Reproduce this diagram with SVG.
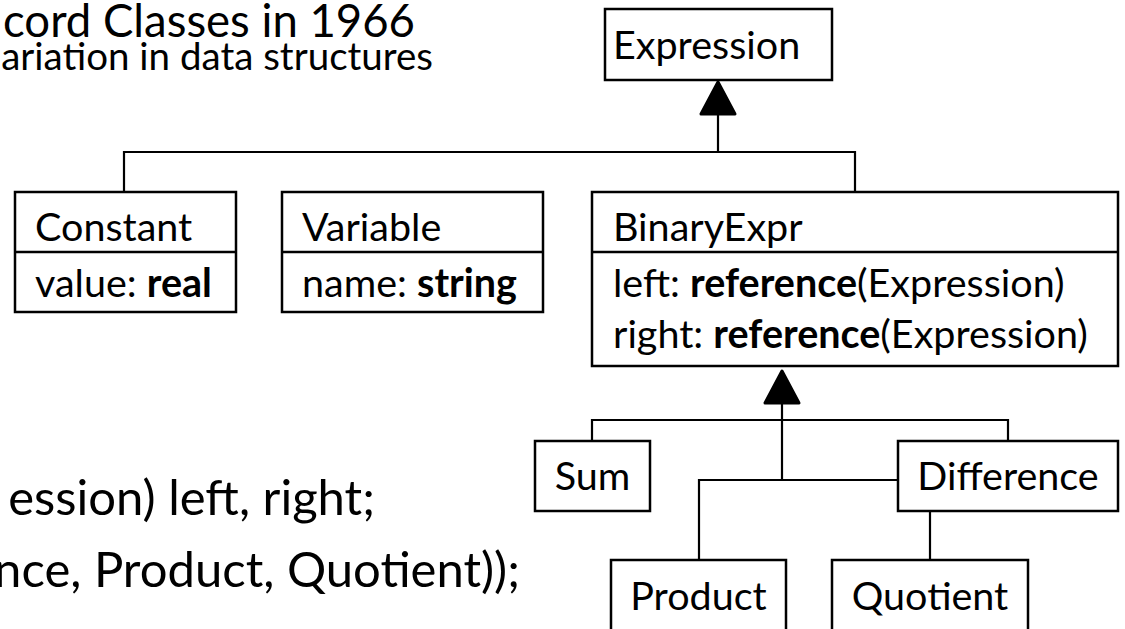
<svg xmlns="http://www.w3.org/2000/svg" width="1125" height="629" viewBox="0 0 1125 629">
<style>
.box{fill:#fff;stroke:#000;stroke-width:2.5}
.div{stroke:#000;stroke-width:2.5}
.con{fill:none;stroke:#000;stroke-width:2.2}
.t{font-family:Lato,"Open Sans","Liberation Sans",sans-serif;font-size:39.5px;fill:#000}
.c{text-anchor:middle}
.b{font-weight:bold}
.big{font-family:Lato,"Open Sans","Liberation Sans",sans-serif;fill:#000;text-anchor:end}
</style>
<defs>
<marker id="tri" markerUnits="userSpaceOnUse" viewBox="-3 -3 40 43" markerWidth="40" markerHeight="43" refX="0" refY="18.5" orient="auto">
<path d="M0,1.5 L32,18.5 L0,35.5 Z" fill="#000" stroke="#000" stroke-width="3" stroke-linejoin="round"/>
</marker>
</defs>
<rect width="1125" height="629" fill="#fff"/>
<g id="title">
<text class="big" x="415" y="37" font-size="45.5">cord Classes in 1966</text>
<text class="big" x="433" y="70" font-size="38.5">ariation in data structures</text>
</g>
<g id="code">
<text class="big" x="375" y="515" font-size="49">ession) left, right;</text>
<text class="big" x="520" y="587" font-size="49">nce, Product, Quotient));</text>
</g>
<g id="connectors">
<path class="con" d="M124,192 V152 H855 V192"/>
<path class="con" d="M718,152 V114" marker-end="url(#tri)"/>
<path class="con" d="M592,441 V420 H1008 V441"/>
<path class="con" d="M699,560 V480 H898"/>
<path class="con" d="M782,480 V403" marker-end="url(#tri)"/>
<path class="con" d="M930,511 V560"/>
</g>
<g id="Expression">
<rect class="box" x="605" y="9" width="227" height="71"/>
<text class="t" x="613" y="59">Expression</text>
</g>
<g id="Constant">
<rect class="box" x="15" y="192" width="221" height="120"/>
<line class="div" x1="15" y1="252" x2="236" y2="252"/>
<text class="t" x="35" y="241">Constant</text>
<text class="t" x="35" y="297">value: <tspan class="b">real</tspan></text>
</g>
<g id="Variable">
<rect class="box" x="282" y="192" width="261" height="120"/>
<line class="div" x1="282" y1="252" x2="543" y2="252"/>
<text class="t" x="302" y="241">Variable</text>
<text class="t" x="302" y="297">name: <tspan class="b">string</tspan></text>
</g>
<g id="BinaryExpr">
<rect class="box" x="592" y="192" width="526" height="174"/>
<line class="div" x1="592" y1="252" x2="1118" y2="252"/>
<text class="t" x="613" y="241">BinaryExpr</text>
<text class="t" x="613" y="297">left: <tspan class="b">reference</tspan>(Expression)</text>
<text class="t" x="613" y="348">right: <tspan class="b">reference</tspan>(Expression)</text>
</g>
<g id="Sum">
<rect class="box" x="535" y="441" width="115" height="70"/>
<text class="t c" x="592.5" y="490">Sum</text>
</g>
<g id="Difference">
<rect class="box" x="898" y="441" width="220" height="70"/>
<text class="t c" x="1008" y="490">Difference</text>
</g>
<g id="Product">
<rect class="box" x="611" y="560" width="175" height="90"/>
<text class="t c" x="698.5" y="610">Product</text>
</g>
<g id="Quotient">
<rect class="box" x="832" y="560" width="196" height="90"/>
<text class="t c" x="930" y="610">Quotient</text>
</g>
</svg>
